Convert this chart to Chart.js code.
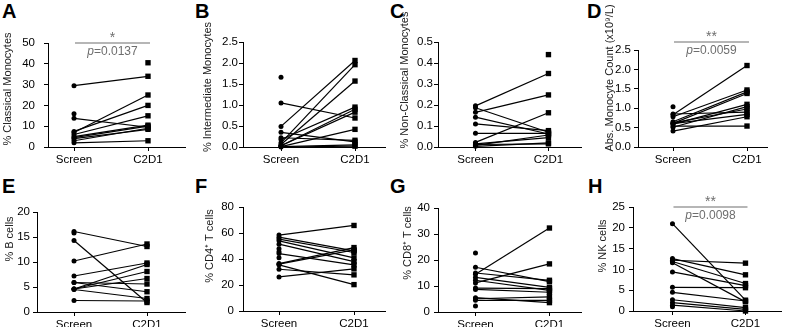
<!DOCTYPE html>
<html>
<head>
<meta charset="utf-8">
<script src="https://cdn.jsdelivr.net/npm/chart.js@4.4.1/dist/chart.umd.min.js"></script>
<style>
  body { margin: 0; background: #fff; width: 785px; height: 327px; position: relative; overflow: hidden;
         font-family: "Liberation Sans", Arial, sans-serif; }
  canvas { position: absolute; }
  .lt { position: absolute; font-weight: bold; font-size: 20px; line-height: 20px; color: #000; }
</style>
</head>
<body>
<div class="lt" style="left:2px;top:1px">A</div>
<div class="lt" style="left:195px;top:1px">B</div>
<div class="lt" style="left:390px;top:1px">C</div>
<div class="lt" style="left:587px;top:1px">D</div>
<div class="lt" style="left:2px;top:176px">E</div>
<div class="lt" style="left:195px;top:176px">F</div>
<div class="lt" style="left:390px;top:176px">G</div>
<div class="lt" style="left:588px;top:176px">H</div>
<script>
// x軸のラベル
const xLabels = ['Screen', 'C2D1'];

// 各パネルのデータ（同じインデックスが同じ患者、nullは片方のみ）
const classicalScreen = [29.5, 16, 13.8, 7.5, 7, 6, 5, 4.5, 4, 3, 2, null];
const classicalC2D1   = [34, null, 9.5, 20, 25, 15, 10.5, 10, 8.5, 9, 3, 40.5];

const intermediateScreen = [1.66, 1.05, 0.49, 0.35, 0.22, 0.18, 0.1, 0.06, 0.03, 0.03, 0.01, 0.01, 0.0];
const intermediateC2D1   = [null, 0.69, 2.06, 0.12, 0.16, 0.95, 1.96, 1.57, 0.9, 0.83, 0.42, 0.05, 0.02];

const nonClassicalScreen = [0.196, 0.187, 0.165, 0.142, 0.11, 0.065, 0.022, 0.015, 0.012, 0.008, 0.003, null];
const nonClassicalC2D1   = [0.35, 0.07, 0.248, 0.062, 0.078, 0.065, 0.163, 0.045, 0.015, 0.057, 0.02, 0.44];

const absMonoScreen = [1.04, 0.85, 0.83, 0.78, 0.65, 0.62, 0.61, 0.6, 0.59, 0.54, 0.51, 0.41];
const absMonoC2D1   = [null, 0.9, 2.1, 1.47, 1.42, 0.98, 1.38, 0.84, 1.1, 0.54, 1.04, 0.78];

const bCellScreen = [16.1, 15.8, 14.3, 10.2, 7.2, 5.9, 5.9, 4.6, 4.6, 4.6, 4.5, 2.3];
const bCellC2D1   = [13.1, null, 1.9, 13.6, 9.8, 4.05, 5.6, 9.5, 8.1, 6.7, 2.7, 2.2];

const cd4Screen = [58.4, 56.8, 55.3, 54, 51.4, 47.8, 45.5, 44.2, 40.9, 36.5, 36, 35.5, 32.1, 26.2];
const cd4C2D1   = [65.8, 46.3, 45, 40.9, 38, null, null, 35.5, null, 48.8, 47, 20.3, 27.8, 32.4];

const cd8Screen = [22.7, 17.2, 15, 14.5, 13.3, 12.2, 11.2, 9.2, 8.7, 5.5, 5.1, 4.5, 2.3];
const cd8C2D1   = [null, 11.7, 12.2, 32.3, 9.5, 8.3, 18.5, 9, 7.6, 3.6, 5.8, 4.5, null];

const nkScreen = [21, 12.6, 12.2, 11.9, 11.6, 9.4, 5.7, 4.5, 2.7, 2, 1.4, 1];
const nkC2D1   = [2.6, 8.7, 11.5, 6.6, 2.2, 6.1, 5.6, 2.4, 0.8, 0.4, 0, null];

// レイアウト（ページ座標）: box=キャンバス, area=プロット領域, xs=Screen/C2D1のx位置
const panels = [
  { box: [0, 0, 195, 165], area: [48, 43, 185, 147], xs: [74, 148], ymax: 50, step: 10, dec: 0, ypad: 9,
    title: '% Classical Monocytes', tpos: [8, 89], screen: classicalScreen, c2d1: classicalC2D1,
    sig: { stars: '*', p: '0.0137', y: 43 } },
  { box: [195, 0, 195, 165], area: [243, 42, 385, 147], xs: [281, 355], ymax: 2.5, step: 0.5, dec: 1, ypad: 1,
    title: '% Intermediate Monocytes', tpos: [208, 87], screen: intermediateScreen, c2d1: intermediateC2D1 },
  { box: [390, 0, 195, 165], area: [438, 42, 583, 147], xs: [476, 550], ymax: 0.5, step: 0.1, dec: 1, ypad: 1,
    title: '% Non-Classical Monocytes', tpos: [405, 80], screen: nonClassicalScreen, c2d1: nonClassicalC2D1 },
  { box: [585, 0, 200, 165], area: [638, 50, 767, 147], xs: [673, 747], ymax: 2.5, step: 0.5, dec: 1, ypad: 3,
    title: 'Abs. Monocyte Count (x10\u2079/L)', tpos: [610, 78], screen: absMonoScreen, c2d1: absMonoC2D1,
    sig: { stars: '**', p: '0.0059', y: 42 } },
  { box: [0, 165, 195, 162], area: [37, 212, 185, 312], xs: [74, 147], ymax: 20, step: 5, dec: 0, ypad: 3,
    title: '% B cells', tpos: [10, 239], screen: bCellScreen, c2d1: bCellC2D1 },
  { box: [195, 165, 195, 162], area: [243, 207, 385, 311], xs: [279, 354], ymax: 80, step: 20, dec: 0, ypad: 5,
    title: '% CD4\u207A T cells', tpos: [210, 246], screen: cd4Screen, c2d1: cd4C2D1 },
  { box: [390, 165, 195, 162], area: [438, 208, 583, 312], xs: [476, 551], ymax: 40, step: 10, dec: 0, ypad: 4,
    title: '% CD8\u207A T cells', tpos: [408, 243], screen: cd8Screen, c2d1: cd8C2D1 },
  { box: [585, 165, 200, 162], area: [633, 207, 783, 311], xs: [673, 747], ymax: 25, step: 5, dec: 0, ypad: 4,
    title: '% NK cells', tpos: [603, 246], screen: nkScreen, c2d1: nkC2D1,
    sig: { stars: '**', p: '0.0098', y: 207 } }
];

const FONT = '"Liberation Sans", Arial, sans-serif';

function renderPanel(p) {
  const [bx, by, bw, bh] = p.box;
  const [l, t, r, b] = p.area;
  const canvas = document.createElement('canvas');
  canvas.width = bw;
  canvas.height = bh;
  canvas.style.left = bx + 'px';
  canvas.style.top = by + 'px';
  canvas.style.width = bw + 'px';
  canvas.style.height = bh + 'px';
  document.body.appendChild(canvas);

  const span = p.xs[1] - p.xs[0];
  const xmin = 1 - (p.xs[0] - l) / span;
  const xmax = 2 + (r - p.xs[1]) / span;

  // 1人分 = Screen と C2D1 をつなぐ線
  const datasets = p.screen.map((s, i) => ({
    data: [{ x: 1, y: s }, { x: 2, y: p.c2d1[i] }],
    borderColor: '#000',
    backgroundColor: '#000',
    borderWidth: 1.2,
    pointStyle: ['circle', 'rect'],
    pointRadius: [2.5, 3.8],
    pointBorderWidth: 0,
    clip: false
  }));

  // y軸タイトルと有意差表示
  const extras = {
    id: 'extras',
    afterDraw(chart) {
      const ctx = chart.ctx;
      ctx.save();
      ctx.fillStyle = '#1a1a1a';
      ctx.font = '11px ' + FONT;
      ctx.textAlign = 'center';
      ctx.textBaseline = 'middle';
      ctx.translate(p.tpos[0] - bx, p.tpos[1] - by);
      ctx.rotate(-Math.PI / 2);
      ctx.fillText(p.title, 0, 0);
      ctx.restore();

      if (p.sig) {
        const xs = chart.scales.x;
        const x1 = xs.getPixelForValue(1) + 1;
        const x2 = xs.getPixelForValue(2) + 2;
        const y = p.sig.y - by;
        ctx.save();
        ctx.strokeStyle = '#6e6e6e';
        ctx.lineWidth = 1.2;
        ctx.beginPath();
        ctx.moveTo(x1, y);
        ctx.lineTo(x2, y);
        ctx.stroke();
        const cx = (x1 + x2) / 2;
        ctx.fillStyle = '#6e6e6e';
        ctx.textBaseline = 'middle';
        ctx.textAlign = 'center';
        ctx.font = '14px ' + FONT;
        ctx.fillText(p.sig.stars, cx, y - 5);
        ctx.font = 'italic 12px ' + FONT;
        const w1 = ctx.measureText('p').width;
        ctx.font = '12px ' + FONT;
        const rest = '=' + p.sig.p;
        const w2 = ctx.measureText(rest).width;
        const start = cx - (w1 + w2) / 2;
        ctx.textAlign = 'left';
        ctx.font = 'italic 12px ' + FONT;
        ctx.fillText('p', start, y + 9);
        ctx.font = '12px ' + FONT;
        ctx.fillText(rest, start + w1, y + 9);
        ctx.restore();
      }
    }
  };

  new Chart(canvas, {
    type: 'line',
    data: { datasets: datasets },
    options: {
      responsive: false,
      animation: false,
      events: [],
      layout: { padding: { left: 0, top: t - by, right: bx + bw - r, bottom: 0 } },
      plugins: { legend: { display: false }, tooltip: { enabled: false } },
      scales: {
        x: {
          type: 'linear',
          min: xmin,
          max: xmax,
          afterBuildTicks: (s) => { s.ticks = [{ value: 1 }, { value: 2 }]; },
          afterFit: (s) => { s.height = by + bh - b; },
          ticks: {
            callback: (v) => xLabels[v - 1],
            color: '#000',
            font: { family: FONT, size: 11.5 },
            padding: 2,
            maxRotation: 0,
            autoSkip: false
          },
          grid: { display: true, drawOnChartArea: false, tickLength: 4, color: '#000' },
          border: { color: '#000', width: 1 }
        },
        y: {
          min: 0,
          max: p.ymax,
          afterFit: (s) => { s.width = l - bx; },
          ticks: {
            stepSize: p.step,
            callback: (v) => v.toFixed(p.dec),
            color: '#000',
            font: { family: FONT, size: 11.5 },
            padding: p.ypad
          },
          grid: { display: true, drawOnChartArea: false, tickLength: 4, color: '#000' },
          border: { color: '#000', width: 1 }
        }
      }
    },
    plugins: [extras]
  });
}

panels.forEach(renderPanel);
</script>
</body>
</html>
